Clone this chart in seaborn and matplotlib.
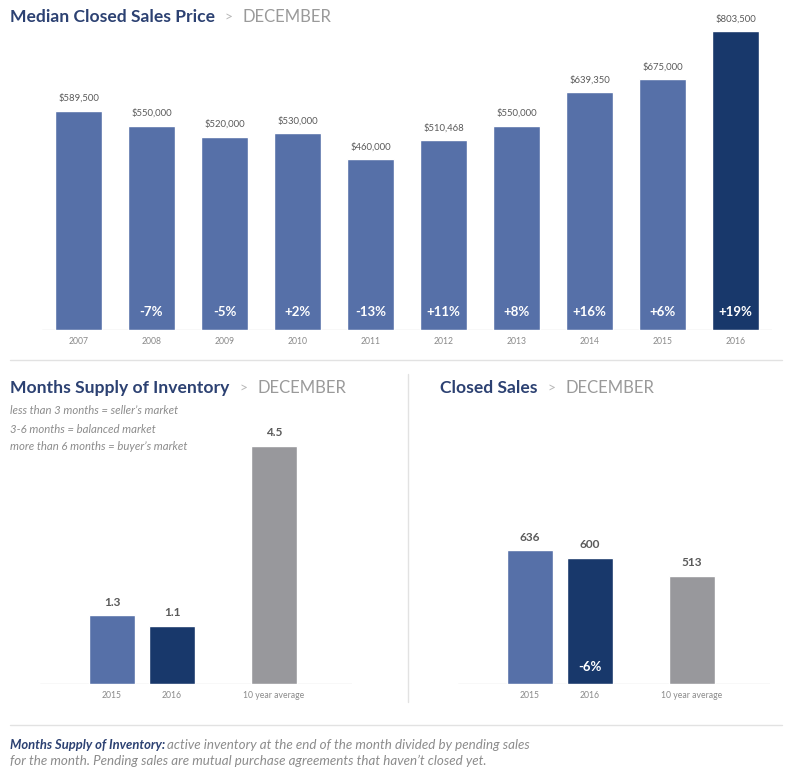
import matplotlib
matplotlib.use("Agg")
import matplotlib.pyplot as plt
from matplotlib.lines import Line2D
import seaborn as sns
import pandas as pd

# ---- data -------------------------------------------------------------
years = ["2007", "2008", "2009", "2010", "2011", "2012", "2013", "2014", "2015", "2016"]
median_price = [589500, 550000, 520000, 530000, 460000, 510468, 550000, 639350, 675000, 803500]
price_change = ["", "-7%", "-5%", "+2%", "-13%", "+11%", "+8%", "+16%", "+6%", "+19%"]

supply_labels = ["2015", "2016", "10 year average"]
months_supply = [1.3, 1.1, 4.5]

sales_labels = ["2015", "2016", "10 year average"]
closed_sales = [636, 600, 513]
sales_change = ["", "-6%", ""]

market_notes = [
    "less than 3 months = seller\u2019s market",
    "3-6 months = balanced market",
    "more than 6 months = buyer\u2019s market",
]

# ---- style ------------------------------------------------------------
sns.set_theme(style="white")
plt.rcParams["font.family"] = ["Lato", "DejaVu Sans"]

BLUE = "#5670a8"
NAVY = "#18386b"
GREY_BAR = "#98989c"
TITLE = "#2c4172"
MUTED = "#9a9a9a"
LABEL = "#5a5a5a"
RULE = "#e2e2e2"

W, H = 791, 775
fig = plt.figure(figsize=(W / 100, H / 100), dpi=100)
fig.patch.set_facecolor("white")


def fx(px):
    return px / W


def fy(py):
    return 1 - py / H


def title(x, y, main, sub="DECEMBER"):
    t = fig.text(fx(x), fy(y), main, fontsize=12.6, fontweight="bold",
                 color=TITLE, va="center", ha="left")
    fig.canvas.draw()
    bb = t.get_window_extent()
    fig.text(bb.x1 / W + fx(10), fy(y), ">", fontsize=10, color="#b8b8b8",
             va="center", ha="left")
    fig.text(bb.x1 / W + fx(28), fy(y), sub, fontsize=12, color=MUTED,
             va="center", ha="left")


def style_axis(ax):
    sns.despine(ax=ax, left=True, bottom=True)
    ax.set_yticks([])
    ax.set_xlabel("")
    ax.set_ylabel("")
    ax.axhline(0, color="#dcdcdc", lw=1, zorder=0)
    ax.tick_params(axis="x", length=0, labelsize=6.2, labelcolor="#8a8a8a", pad=5)
    ax.set_facecolor("none")


# ---- top: median closed sales price -----------------------------------
ax1 = fig.add_axes([fx(42), fy(330), fx(730), 310 / H])
price_df = pd.DataFrame({"year": years, "price": median_price})
top_palette = {y: BLUE for y in years}
top_palette[years[-1]] = NAVY
sns.barplot(data=price_df, x="year", y="price", hue="year", palette=top_palette,
            order=years, width=0.64, legend=False, saturation=1, ax=ax1)
ax1.set_ylim(0, 834450)
style_axis(ax1)
for i, (v, ch) in enumerate(zip(median_price, price_change)):
    ax1.annotate(f"${v:,.0f}", xy=(i, v), xytext=(0, 9), textcoords="offset points",
                 ha="center", va="center", fontsize=6.8, color=LABEL)
    if ch:
        ax1.annotate(ch, xy=(i, 0), xytext=(0, 13), textcoords="offset points",
                     ha="center", va="center", fontsize=9.5, fontweight="bold",
                     color="white")

title(10, 17, "Median Closed Sales Price")

# ---- bottom bars share the same slot layout --------------------------
BAR_SLOTS = [0.0, 1.0, 2.7]
bottom_palette = [BLUE, NAVY, GREY_BAR]


def small_bars(left_px, values, labels, ymax, fmt, changes=None):
    ax = fig.add_axes([fx(left_px), fy(684), fx(312), 284 / H])
    df = pd.DataFrame({"slot": BAR_SLOTS, "value": values, "label": labels})
    sns.barplot(data=df, x="slot", y="value", hue="label",
                palette=dict(zip(labels, bottom_palette)), native_scale=True,
                width=0.78, legend=False, saturation=1, ax=ax)
    ax.set_xlim(-1.2, 4.0)
    ax.set_ylim(0, ymax)
    style_axis(ax)
    ax.set_xticks(BAR_SLOTS)
    ax.set_xticklabels(labels)
    for s, v in zip(BAR_SLOTS, values):
        ax.annotate(fmt(v), xy=(s, v), xytext=(0, 9.5), textcoords="offset points",
                    ha="center", va="center", fontsize=8.5, fontweight="bold",
                    color=LABEL)
    if changes:
        for s, ch in zip(BAR_SLOTS, changes):
            if ch:
                ax.annotate(ch, xy=(s, 0), xytext=(0, 12), textcoords="offset points",
                            ha="center", va="center", fontsize=9.5,
                            fontweight="bold", color="white")
    return ax


small_bars(40, months_supply, supply_labels, 5.37, lambda v: f"{v:.1f}")
small_bars(458, closed_sales, sales_labels, 1350, lambda v: f"{v:,.0f}", sales_change)

title(10, 388, "Months Supply of Inventory")
title(440, 388, "Closed Sales")

for k, line in enumerate(market_notes):
    fig.text(fx(10), fy(411 + 18 * k), line, fontsize=8.2, style="italic",
             color="#8c8c8c", va="center", ha="left")

# ---- rules ------------------------------------------------------------
fig.add_artist(Line2D([fx(10), fx(782)], [fy(360), fy(360)], color=RULE, lw=1))
fig.add_artist(Line2D([fx(408), fx(408)], [fy(374), fy(702)], color=RULE, lw=1))
fig.add_artist(Line2D([fx(10), fx(782)], [fy(725), fy(725)], color=RULE, lw=1))

# ---- footnote ---------------------------------------------------------
head = fig.text(fx(10), fy(745), "Months Supply of Inventory:", fontsize=9.4,
                fontweight="bold", style="italic", color=TITLE, va="center", ha="left")
fig.canvas.draw()
hb = head.get_window_extent()
fig.text(hb.x1 / W + fx(2), fy(745),
         "active inventory at the end of the month divided by pending sales",
         fontsize=9.6, style="italic", color="#8c8c8c", va="center", ha="left")
fig.text(fx(10), fy(761),
         "for the month. Pending sales are mutual purchase agreements that haven\u2019t closed yet.",
         fontsize=9.6, style="italic", color="#8c8c8c", va="center", ha="left")

fig.savefig("out.png", dpi=100, facecolor="white")
